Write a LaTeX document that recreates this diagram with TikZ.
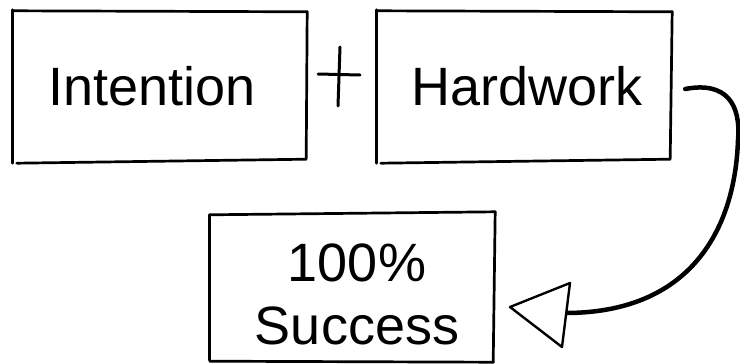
\documentclass[tikz,border=0pt]{standalone}
\usepackage{fontspec}
\setmainfont{Liberation Sans}
\begin{document}
\begin{tikzpicture}[x=1pt,y=-1pt,
  boxframe/.style={draw=none,inner sep=0pt},
  boxtext/.style={draw=none,inner sep=0pt,font=\fontsize{54}{63}\selectfont,align=center},
  sketch/.style={line width=2.7pt,line cap=round,black},
  flow/.style={line width=4.5pt,line cap=round,black}]
\useasboundingbox (0,0) rectangle (740,364);
\fill[white] (0,0) rectangle (740,364);
% frames
\node[boxframe,minimum width=294pt,minimum height=150pt] (int) at (160,87) {};
\node[boxframe,minimum width=295pt,minimum height=150pt] (hw) at (524.5,87) {};
\node[boxframe,minimum width=285pt,minimum height=147pt] (suc) at (352.5,288.5) {};
% texts
\node[boxtext] (intt) at (152,86) {Intention};
\node[boxtext] (hwt) at (527,86) {Hardwork};
\node[boxtext] (suct) at (357,294) {100\%\\Success};
% sketchy box edges
\draw[sketch] ([yshift=2pt]int.north west) -- ([yshift=-1pt]int.south west);
\draw[sketch] ([yshift=1pt]int.north west) -- ([yshift=0pt]int.north east);
\draw[sketch] (int.north east) -- ([xshift=-1pt,yshift=4pt]int.south east);
\draw[sketch] ([xshift=4pt,yshift=-1pt]int.south west) -- ([xshift=-1pt,yshift=3pt]int.south east);
\draw[sketch] ([yshift=2pt]hw.north west) -- ([yshift=-1pt]hw.south west);
\draw[sketch] ([yshift=1pt]hw.north west) -- (hw.north east);
\draw[sketch] (hw.north east) -- ([xshift=-2pt,yshift=4pt]hw.south east);
\draw[sketch] ([xshift=4pt,yshift=-1pt]hw.south west) -- ([xshift=-2pt,yshift=3pt]hw.south east);
\draw[sketch] (suc.north west) -- ([yshift=2pt]suc.south west);
\draw[sketch] (suc.north west) -- ([yshift=3pt]suc.north east);
\draw[sketch] ([yshift=3pt]suc.north east) -- ([xshift=-2pt]suc.south east);
\draw[sketch] ([yshift=1pt]suc.south west) -- ([xshift=-2pt]suc.south east);
% plus sign
\coordinate (pl) at (318,74);
\coordinate (pr) at (360,75);
\coordinate (pt) at (340,47);
\coordinate (pb) at (338,106);
\draw[sketch,line width=3pt] (pl) -- (pr);
\draw[sketch,line width=3pt] (pt) -- (pb);
% connector
\coordinate (tip) at (510,307);
\coordinate (tb1) at (570,283);
\coordinate (tb2) at (562,347);
\coordinate (cend) at (563,313);
\draw[flow] ([xshift=13pt,yshift=-2pt]hw.east) .. controls (727,81) and (741,105) .. (738,140)
  .. controls (735,230) and (690,314) .. (cend);
\draw[line width=2.4pt,line join=round,fill=white] (tip) -- (tb1) -- (tb2) -- cycle;
\end{tikzpicture}
\end{document}
